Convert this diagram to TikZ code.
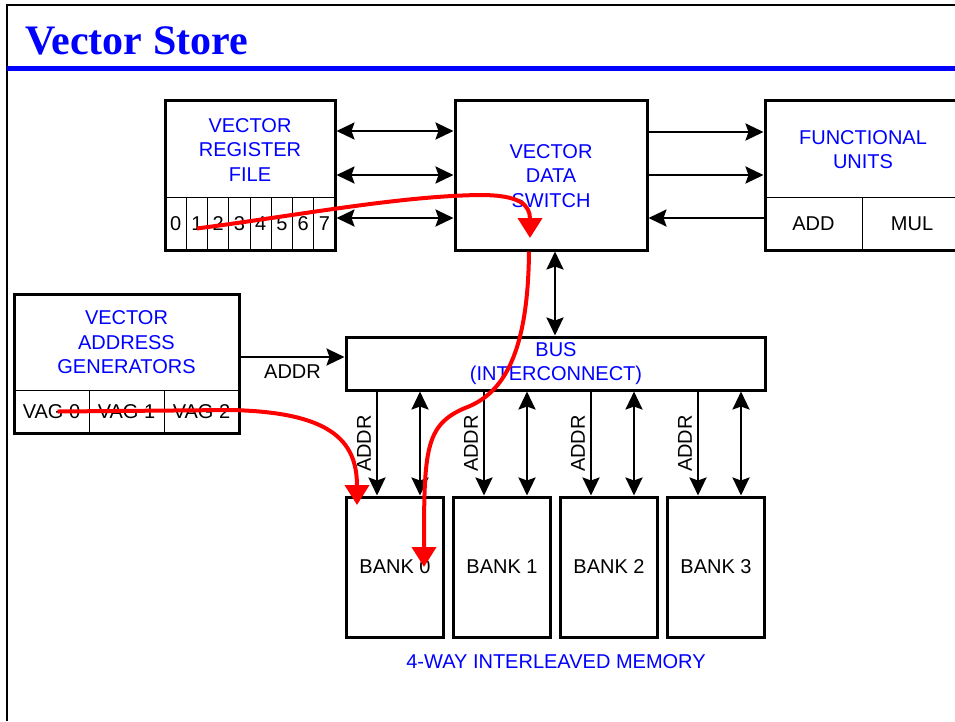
\documentclass[tikz,border=0pt]{standalone}
\usepackage{fontspec}
\setmainfont{Liberation Sans}
\newfontfamily\titlefont{Liberation Serif}
\usetikzlibrary{arrows.meta}

\begin{document}
\begin{tikzpicture}[x=1pt, y=-1pt,
    box/.style={draw, line width=3pt, inner sep=0pt},
    cell/.style={draw, line width=0.8pt, inner sep=0pt, font=\fontsize{20}{20}\selectfont},
    lbl/.style={text=blue, align=center, font=\fontsize{20}{24.5}\selectfont},
    small/.style={font=\fontsize{20}{20}\selectfont},
    wire/.style={line width=2.5pt, -{Stealth[length=18pt,width=17pt,inset=3pt]}},
    dwire/.style={line width=2.5pt, {Stealth[length=18pt,width=17pt,inset=3pt]}-{Stealth[length=18pt,width=17pt,inset=3pt]}},
    flow/.style={red, line width=4pt, -{Triangle[length=20pt,width=24pt]}}]
    \useasboundingbox (0,0) rectangle (955,721);

    % Slide frame and title
    \draw[line width=2.5pt] (7,721) -- (7,5) -- (960,5);
    \draw[blue, line width=5pt] (7,68) -- (960,68);
    \node[anchor=base west, inner sep=0pt, text=blue, font=\titlefont\bfseries\fontsize{42}{42}\selectfont] (title) at (25,54) {Vector Store};

    % Vector register file
    \foreach \i in {0,...,7}
        \node[cell, minimum width=21.25pt, minimum height=53pt] (reg\i) at ({165+21.25*(\i+0.5)},223.5) {\i};
    \node[box, minimum width=170pt, minimum height=150pt] (vrf) at (250,175) {};
    \node[lbl] (vrftxt) at (250,150) {VECTOR\\REGISTER\\FILE};

    % Vector data switch
    \node[box, minimum width=192pt, minimum height=150pt] (vds) at (551,175) {};
    \node[lbl] (vdstxt) at (551,176) {VECTOR\\DATA\\SWITCH};

    % Functional units (cut off at the right)
    \node[cell, minimum width=97pt, minimum height=53pt] (add) at (813.5,223.5) {ADD};
    \node[cell, minimum width=100pt, minimum height=53pt] (mul) at (912,223.5) {MUL};
    \node[box, minimum width=197pt, minimum height=150pt] (fu) at (863.5,175) {};
    \node[lbl] (futxt) at (863,149.5) {FUNCTIONAL\\UNITS};

    % Vector address generators
    \foreach \i in {0,1,2}
        \node[cell, minimum width=75pt, minimum height=43pt] (vag\i) at ({51.5+75*\i},411.5) {VAG \i};
    \node[box, minimum width=225pt, minimum height=139pt] (vag) at (126.5,363.5) {};
    \node[lbl] (vagtxt) at (126.5,342.5) {VECTOR\\ADDRESS\\GENERATORS};

    % Bus
    \node[box, minimum width=419pt, minimum height=53pt] (bus) at (555.5,363.5) {};
    \node[lbl] (bustxt) at (556,363.5) {BUS\\(INTERCONNECT)};

    % Memory banks
    \foreach \i in {0,...,3} {
        \node[box, minimum width=97pt, minimum height=140pt, small] (bank\i) at ({395+107*\i},567) {BANK \i};
        \draw[wire] ([xshift=32pt]bank\i.north west |- bus.south) -- ([xshift=32pt]bank\i.north west)
            node[midway, anchor=south, rotate=90, inner sep=5pt, small] {ADDR};
        \draw[dwire] ([xshift=75pt]bank\i.north west |- bus.south) -- ([xshift=75pt]bank\i.north west);
    }
    \node[lbl] (memtxt) at (556,662) {4-WAY INTERLEAVED MEMORY};

    % Data paths
    \foreach \y in {131,175,218}
        \draw[dwire] (vrf.east |- 0,\y) -- (vds.west |- 0,\y);
    \draw[wire] (vds.east |- 0,132) -- (fu.west |- 0,132);
    \draw[wire] (vds.east |- 0,175) -- (fu.west |- 0,175);
    \draw[wire] (fu.west |- 0,218) -- (vds.east |- 0,218);
    \draw[dwire] (vds.south -| 555,0) -- (bus.north -| 555,0);
    \draw[wire] (vag.east |- 0,357) -- (bus.west |- 0,357) node[midway, below, inner sep=6pt, small] {ADDR};

    % Red flow of the store
    \coordinate (tip1) at (530,238);
    \coordinate (tip2) at (424,567);
    \coordinate (tip3) at (357,505);
    \draw[flow] ([yshift=-5pt]reg1.center) .. controls (300,215) and (400,196) .. (480,195)
        .. controls (520,195) and (530,205) .. (tip1);
    \draw[flow] (vds.south -| 529,0) .. controls (528,360) and (500,395) .. (465,408)
        .. controls (425,425) and (424,450) .. (tip2);
    \draw[flow] ([xshift=6pt]vag0.center) -- (230,410) .. controls (330,412) and (357,440) .. (tip3);
\end{tikzpicture}
\end{document}
